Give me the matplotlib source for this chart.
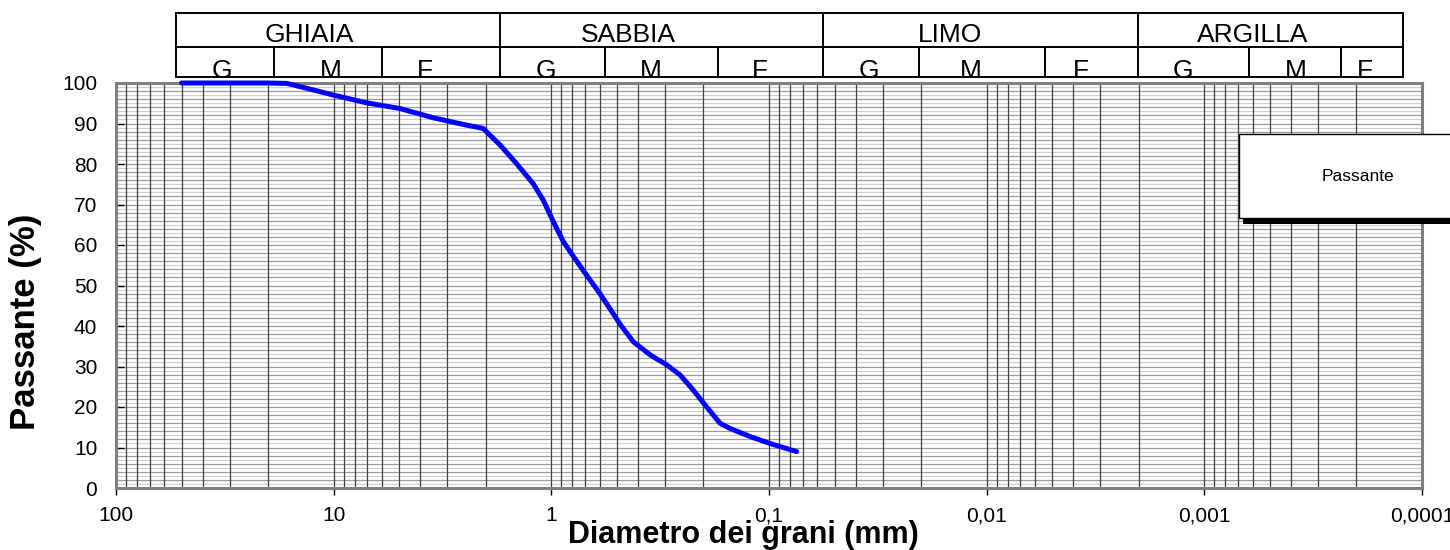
import matplotlib
matplotlib.use("Agg")
import matplotlib.pyplot as plt
from matplotlib.lines import Line2D
from matplotlib.patches import Rectangle
from matplotlib.ticker import LogLocator, FixedLocator, MultipleLocator, NullFormatter

plt.rcParams['font.family'] = ['Liberation Sans', 'DejaVu Sans']

# grain size distribution
diametro = [50, 20.3, 16.4, 13.3, 10, 7.05, 4.96, 3.48, 2.45, 2.06, 1.72, 1.44, 1.21, 1.09,
            0.98, 0.88, 0.79, 0.69, 0.60, 0.54, 0.48, 0.42, 0.35, 0.295, 0.256, 0.223,
            0.194, 0.168, 0.151, 0.122, 0.099, 0.0747]
passante = [100, 100, 99.9, 98.7, 97.0, 95.1, 93.7, 91.4, 89.6, 88.8, 84.7, 80.0, 75.1, 71.1,
            65.8, 60.8, 57.1, 52.6, 48.1, 44.4, 40.2, 36.1, 32.8, 30.4, 27.9, 24.2,
            20.1, 16.0, 14.7, 12.7, 11.0, 9.0]

x_ticks = [100, 10, 1, 0.1, 0.01, 0.001, 0.0001]
x_tick_labels = ["100", "10", "1", "0,1", "0,01", "0,001", "0,0001"]

frazioni = ["GHIAIA", "SABBIA", "LIMO", "ARGILLA"]
sottoclassi = ["G", "M", "F"] * 4

W, H = 1450, 550
fig = plt.figure(figsize=(W / 100, H / 100), dpi=100)


def fx(px):
    return px / W


def fy(py):
    return 1 - py / H


# axes placed in pixels
ax_l, ax_r, ax_t, ax_b = 116, 1422, 83, 488
ax = fig.add_axes([fx(ax_l), fy(ax_b), fx(ax_r - ax_l), (ax_b - ax_t) / H])

ax.plot(diametro, passante, color="#0000FF", lw=3.6, solid_capstyle="round",
        solid_joinstyle="round", zorder=8, clip_on=False, label="Passante")

ax.set_xscale("log")
ax.set_xlim(100, 0.0001)
ax.set_ylim(0, 100)

ax.xaxis.set_major_locator(FixedLocator(x_ticks))
ax.set_xticklabels(x_tick_labels)
ax.xaxis.set_minor_locator(LogLocator(base=10, subs=range(2, 10), numticks=20))
ax.xaxis.set_minor_formatter(NullFormatter())
ax.yaxis.set_major_locator(MultipleLocator(10))
ax.yaxis.set_minor_locator(MultipleLocator(1))

# grid: horizontal every 1 (alternating shades), vertical on each log subdivision
for v in range(1, 100):
    ax.axhline(v, color="#9a9a9a" if v % 2 == 0 else "#d0d0d0", lw=0.9, zorder=1)
for dec in [100, 10, 1, 0.1, 0.01, 0.001]:
    for k in range(1, 10):
        ax.axvline(dec / 10 * k, color="#404040", lw=0.9, zorder=2)

ax.tick_params(axis="y", which="major", direction="in", length=6, width=1,
               color="black", pad=13.5, labelsize=15)
ax.tick_params(axis="y", which="minor", length=0)
ax.tick_params(axis="x", which="major", direction="out", length=5, width=1,
               color="black", pad=8, labelsize=15)
ax.tick_params(axis="x", which="minor", length=0)

for sp in ax.spines.values():
    sp.set_color("#808080")
    sp.set_linewidth(2.2)
    sp.set_zorder(6)

# axis labels
fig.text(fx(743), fy(543), "Diametro dei grani (mm)", fontsize=22, fontweight="bold",
         ha="center", va="baseline")
fig.text(fx(26), fy(322), "Passante (%)", fontsize=25, fontweight="bold",
         ha="center", va="center", rotation=90)

# classification header above the plot
top, mid, bot = 12.5, 46.5, 77
left, right = 176, 1403
main_div = [176, 500, 823, 1138, 1403]
sub_div = [274, 382, 605, 718, 919, 1045, 1249, 1341]
lw_tab = 1.4
for yy in (top, mid, bot):
    fig.add_artist(Line2D([fx(left), fx(right)], [fy(yy), fy(yy)], color="black", lw=lw_tab))
for xx in main_div:
    fig.add_artist(Line2D([fx(xx), fx(xx)], [fy(top), fy(bot)], color="black", lw=lw_tab))
for xx in sub_div:
    fig.add_artist(Line2D([fx(xx), fx(xx)], [fy(mid), fy(bot)], color="black", lw=lw_tab))

main_x = [309, 628, 950, 1253]
for name, xx in zip(frazioni, main_x):
    fig.text(fx(xx), fy(42), name, fontsize=19, ha="center", va="baseline")
sub_x = [222, 331, 425, 546, 651, 760, 869, 971, 1081, 1183, 1296, 1365]
for name, xx in zip(sottoclassi, sub_x):
    fig.text(fx(xx), fy(77.5), name, fontsize=19, ha="center", va="baseline")

# legend box (partly outside the figure, with a dark shadow)
fig.add_artist(Rectangle((fx(1243), fy(223.5)), fx(240), (223.5 - 139) / H,
                         facecolor="black", edgecolor="none", transform=fig.transFigure, zorder=6))
fig.add_artist(Rectangle((fx(1239), fy(218)), fx(240), (218 - 134) / H,
                         facecolor="white", edgecolor="black", lw=1, transform=fig.transFigure, zorder=7))
fig.text(fx(1358), fy(176), "Passante", fontsize=12.5, ha="center", va="center", zorder=8)

fig.savefig("out.png", dpi=100)
